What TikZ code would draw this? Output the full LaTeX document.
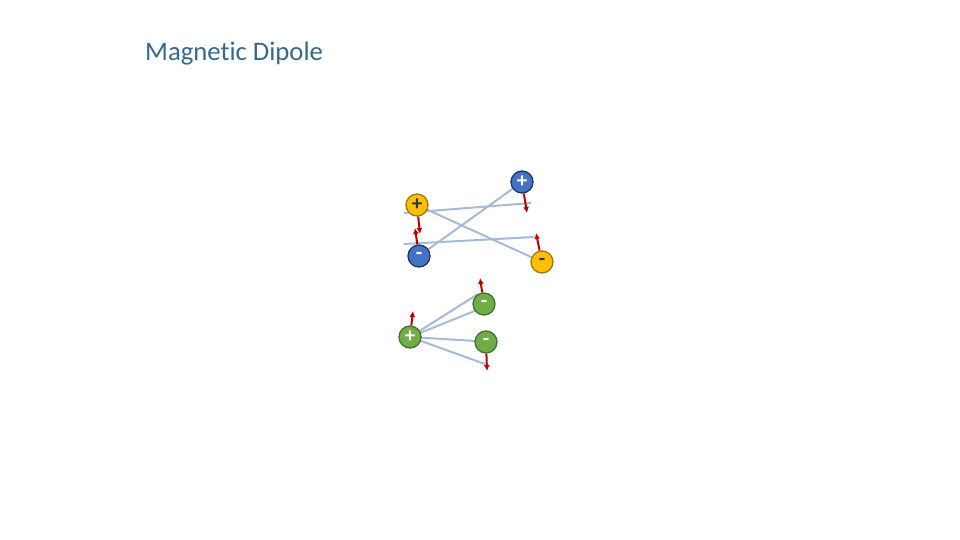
\documentclass[tikz,border=0pt]{standalone}
\usepackage{fontspec}
\setmainfont{Carlito}[Ligatures=NoCommon]
\usepackage{tikz}
\usetikzlibrary{arrows.meta,backgrounds}
\definecolor{TitleBlue}{RGB}{52,104,142}
\definecolor{PoleBlueFill}{RGB}{68,114,196}
\definecolor{PoleBlueDraw}{RGB}{32,56,100}
\definecolor{PoleYellowFill}{RGB}{255,192,0}
\definecolor{PoleYellowDraw}{RGB}{160,120,20}
\definecolor{PoleGreenFill}{RGB}{112,173,71}
\definecolor{PoleGreenDraw}{RGB}{70,110,45}
\definecolor{LineBlue}{RGB}{166,186,216}
\definecolor{MomentRed}{RGB}{192,0,0}
\tikzstyle{PoleBase}=[circle, inner sep=0pt, minimum size=22pt, line width=1.3pt, font=\fontsize{21}{21}\selectfont\bfseries]
\tikzstyle{PoleBlue}=[PoleBase, draw=PoleBlueDraw, fill=PoleBlueFill, text=white]
\tikzstyle{PoleYellow}=[PoleBase, draw=PoleYellowDraw, fill=PoleYellowFill, text=black!80]
\tikzstyle{PoleGreen}=[PoleBase, draw=PoleGreenDraw, fill=PoleGreenFill, text=white]
\tikzstyle{FieldLine}=[draw=LineBlue, line width=2pt]
\tikzstyle{Moment}=[-{Latex[length=6pt,width=6pt]}, draw=MomentRed, line width=2pt]

\begin{document}
\begin{tikzpicture}[x=1pt, y=-1pt]
			\useasboundingbox (0,0) rectangle (960,540);
			%Titulo
			\node[anchor=base west, text=TitleBlue, font=\fontsize{26.7}{26.7}\selectfont, inner sep=0pt] (title) at (145,61) {Magnetic Dipole};

			%Polos
			\node[PoleBlue]		(bp)	at (522,182)	{+};
			\node[PoleYellow]	(yp)	at (417,205)	{+};
			\node[PoleBlue]		(bm)	at (419,256)	{-};
			\node[PoleYellow]	(ym)	at (542,262)	{-};

			\node[PoleGreen]	(gp)	at (410,337)	{+};
			\node[PoleGreen]	(gm1)	at (484,304)	{-};
			\node[PoleGreen]	(gm2)	at (486,342)	{-};

			%Extremos libres
			\coordinate (l1a) at (404,213);
			\coordinate (l1b) at (531,203);
			\coordinate (l4a) at (404,244);
			\coordinate (l4b) at (534,237);
			\coordinate (g1) at (478,294);
			\coordinate (g2) at (477,310);
			\coordinate (g3) at (476,341);
			\coordinate (g4) at (485,364);

			\coordinate (bp_tip) at (527,213);
			\coordinate (yp_tip) at (420,234);
			\coordinate (bm_tip) at (415,228);
			\coordinate (ym_tip) at (536,233);
			\coordinate (gp_tip) at (413,311);
			\coordinate (gm1_tip) at (480,278);
			\coordinate (gm2_tip) at (487,371);

			%Lineas
			\begin{scope}[on background layer]
				\draw[FieldLine] (l1a) -- (l1b);
				\draw[FieldLine] (l4a) -- (l4b);
				\draw[FieldLine] (yp.center) -- (ym);
				\draw[FieldLine] (bm.center) -- (bp);
				\draw[FieldLine] (gp.center) -- (g1);
				\draw[FieldLine] (gp.center) -- (g2);
				\draw[FieldLine] (gp.center) -- (g3);
				\draw[FieldLine] (gp.center) -- (g4);
			\end{scope}

			%Momentos
			\draw[Moment] (bp) -- (bp_tip);
			\draw[Moment] (yp) -- (yp_tip);
			\draw[Moment] (bm) -- (bm_tip);
			\draw[Moment] (ym) -- (ym_tip);
			\draw[Moment] (gp) -- (gp_tip);
			\draw[Moment] (gm1) -- (gm1_tip);
			\draw[Moment] (gm2) -- (gm2_tip);

		\end{tikzpicture}
\end{document}
